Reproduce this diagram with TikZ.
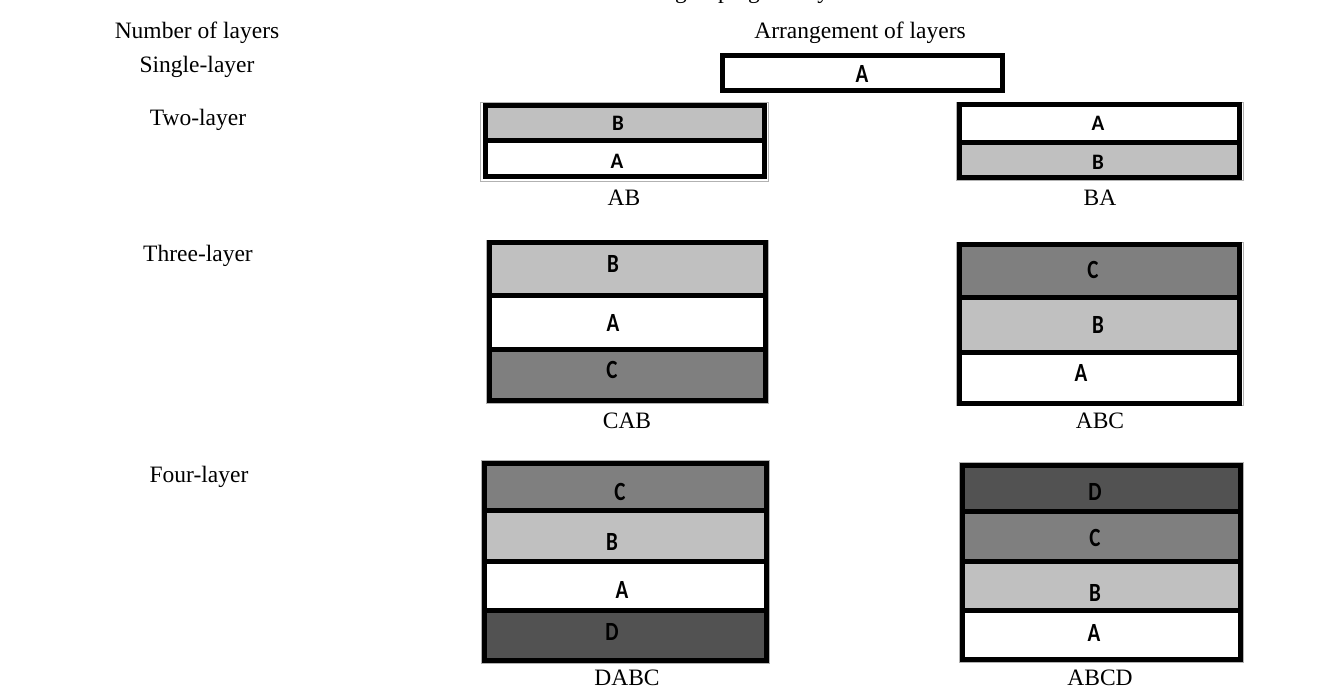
\documentclass[tikz,border=0pt]{standalone}
\usepackage{graphicx}
\usepackage{fontspec}
\setmainfont{Liberation Serif}
\newfontfamily\lyrfont{Carlito}
\definecolor{layA}{RGB}{255,255,255}
\definecolor{layB}{RGB}{192,192,192}
\definecolor{layC}{RGB}{127,127,127}
\definecolor{layD}{RGB}{82,82,82}
\tikzset{
  lbl/.style={font=\fontsize{23.5}{28}\selectfont, inner sep=0pt, anchor=base},
  lyr/.style={draw=black, line width=5pt},
  outframe/.style={draw=black!30, line width=1pt},
  let/.style={font=\lyrfont\bfseries\fontsize{21}{24}\selectfont, inner sep=0pt},
}
\newcommand\lyrtall[1]{\scalebox{1}[1.25]{#1}}
\newcommand\lyrshort[1]{\scalebox{1}[1.05]{#1}}
\begin{document}
\begin{tikzpicture}[x=1pt,y=-1pt]
\useasboundingbox (0,0) rectangle (1328,688);
\clip (0,0) rectangle (1328,688);

% caption line, running above the top edge
\node[lbl, anchor=base west] (title) at (514,-1.5) {Table 1. Various groupings of layers};

% column headings
\node[lbl] (hnum) at (197,38) {Number of layers};
\node[lbl] (harr) at (860,38) {Arrangement of layers};

% row headings
\node[lbl] (r1) at (197,72) {Single-layer};
\node[lbl] (r2) at (198,125) {Two-layer};
\node[lbl] (r3) at (198,261) {Three-layer};
\node[lbl] (r4) at (199,482) {Four-layer};

% single layer
\draw[lyr, fill=layA] (722.5,55.5) rectangle (1002.5,90.5);
\node[let] (sA) at (862,74) {\lyrtall{A}};

% two layers: AB
\draw[outframe] (480.5,102) rectangle (768,181.5);
\draw[lyr, fill=layB] (485.5,105.5) rectangle (764.5,140.5);
\draw[lyr, fill=layA] (485.5,140.5) rectangle (764.5,176.5);
\node[let] (abB) at (618,123) {\lyrshort{B}};
\node[let] (abA) at (617,161) {\lyrshort{A}};
\node[lbl] (lAB) at (624,205) {AB};

% two layers: BA
\draw[outframe] (956.5,102) rectangle (1243,180.5);
\draw[lyr, fill=layA] (959.5,104.5) rectangle (1239.5,142.5);
\draw[lyr, fill=layB] (959.5,142.5) rectangle (1239.5,177.5);
\node[let] (baA) at (1098,123) {\lyrshort{A}};
\node[let] (baB) at (1098,162) {\lyrshort{B}};
\node[lbl] (lBA) at (1100,205) {BA};

% three layers: CAB
\draw[outframe] (486,240) rectangle (768,403.5);
\draw[lyr, fill=layB] (489,242.5) rectangle (765,295);
\draw[lyr, fill=layA] (489,295) rectangle (765,349);
\draw[lyr, fill=layC] (489,349) rectangle (765,400.5);
\node[let] (cabB) at (613,264) {\lyrtall{B}};
\node[let] (cabA) at (613,323) {\lyrtall{A}};
\node[let] (cabC) at (612,370) {\lyrtall{C}};
\node[lbl] (lCAB) at (627,428) {CAB};

% three layers: ABC
\draw[outframe] (956.5,242) rectangle (1243,405.5);
\draw[lyr, fill=layC] (959.5,244.5) rectangle (1239.5,297.5);
\draw[lyr, fill=layB] (959.5,297.5) rectangle (1239.5,352);
\draw[lyr, fill=layA] (959.5,352) rectangle (1239.5,403);
\node[let] (abcC) at (1093,270) {\lyrtall{C}};
\node[let] (abcB) at (1098,325) {\lyrtall{B}};
\node[let] (abcA) at (1081,373) {\lyrtall{A}};
\node[lbl] (lABC) at (1100,428) {ABC};

% four layers: DABC
\draw[outframe] (481,460.5) rectangle (769.5,663.5);
\draw[lyr, fill=layC] (484,463) rectangle (766.5,510);
\draw[lyr, fill=layB] (484,510) rectangle (766.5,561.7);
\draw[lyr, fill=layA] (484,561.7) rectangle (766.5,610);
\draw[lyr, fill=layD] (484,610) rectangle (766.5,660.5);
\node[let] (dabcC) at (620,492) {\lyrtall{C}};
\node[let] (dabcB) at (612,542) {\lyrtall{B}};
\node[let] (dabcA) at (622,590) {\lyrtall{A}};
\node[let] (dabcD) at (612,632) {\lyrtall{D}};
\node[lbl] (lDABC) at (627,685) {DABC};

% four layers: ABCD
\draw[outframe] (959.5,462.5) rectangle (1243.5,662);
\draw[lyr, fill=layD] (962.5,465) rectangle (1240.5,511.7);
\draw[lyr, fill=layC] (962.5,511.7) rectangle (1240.5,561.7);
\draw[lyr, fill=layB] (962.5,561.7) rectangle (1240.5,610);
\draw[lyr, fill=layA] (962.5,610) rectangle (1240.5,659);
\node[let] (abcdD) at (1095,492) {\lyrtall{D}};
\node[let] (abcdC) at (1095,538) {\lyrtall{C}};
\node[let] (abcdB) at (1095,593) {\lyrtall{B}};
\node[let] (abcdA) at (1094,633) {\lyrtall{A}};
\node[lbl] (lABCD) at (1100,685) {ABCD};
\end{tikzpicture}
\end{document}
